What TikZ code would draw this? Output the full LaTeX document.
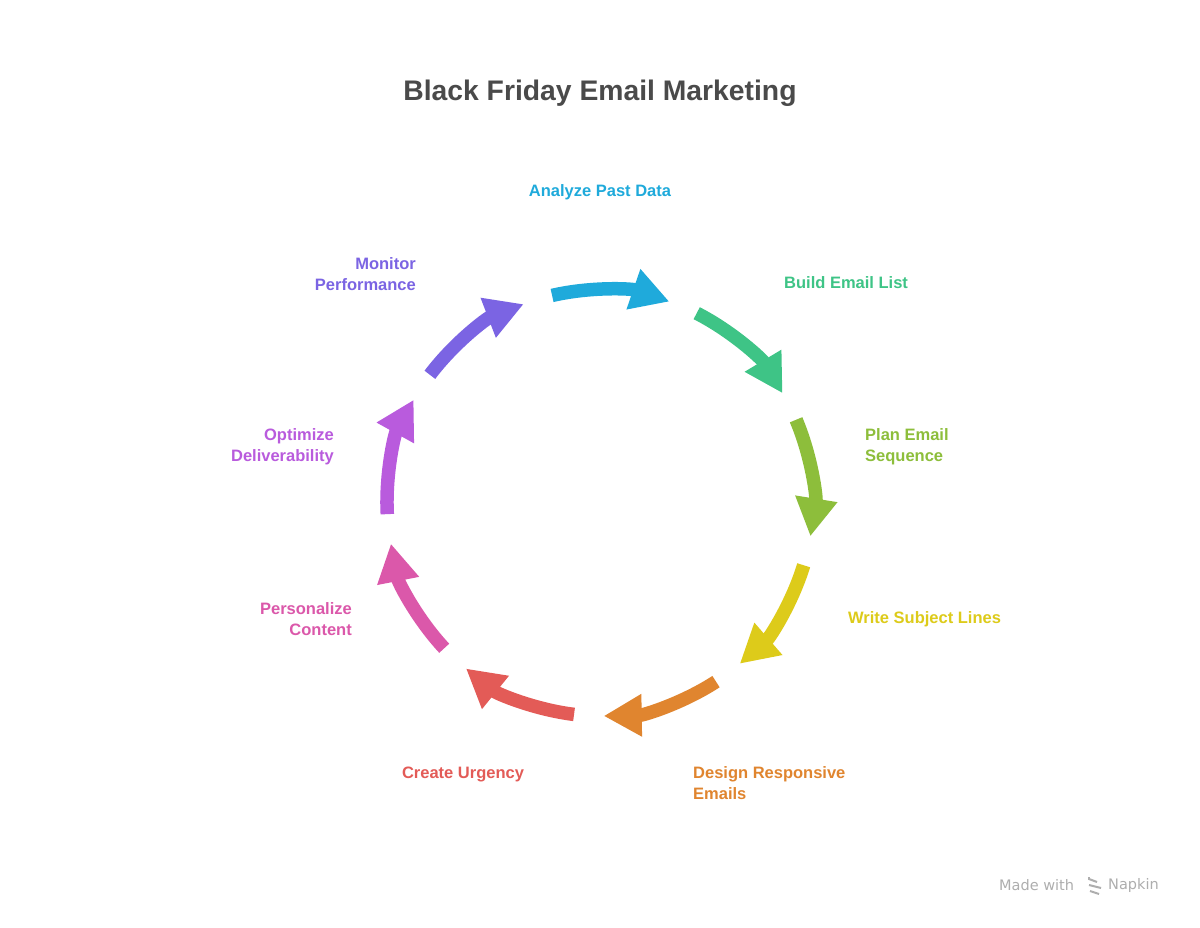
\documentclass[tikz,border=0pt]{standalone}
\usepackage{fontspec}
\setmainfont{Liberation Sans}
\newfontfamily\footfont{DejaVu Sans}
\usetikzlibrary{arrows.meta}
\definecolor{cblue}{HTML}{1FAADB}
\definecolor{cgreen}{HTML}{3EC486}
\definecolor{colive}{HTML}{8DBE3B}
\definecolor{cyellow}{HTML}{DDCB1A}
\definecolor{corange}{HTML}{E0852F}
\definecolor{cred}{HTML}{E35B57}
\definecolor{cpink}{HTML}{DB58AA}
\definecolor{cpurple}{HTML}{B95BDD}
\definecolor{cviolet}{HTML}{7B64E3}
\definecolor{ctitle}{HTML}{4A4A4A}
\definecolor{cfoot}{HTML}{AEAEAE}
\begin{document}
\begin{tikzpicture}[x=1pt,y=1pt,
  seg/.style={line width=13.5pt, -{Triangle[width=40pt,length=38pt]}},
  lbl/.style={font=\fontsize{16.5}{21}\selectfont\bfseries, inner sep=0pt},
  foot/.style={font=\fontsize{14.5}{18}\footfont, text=cfoot, anchor=west, inner sep=0pt}]
\useasboundingbox (0,0) rectangle (1200,927);
\fill[white] (0,0) rectangle (1200,927);
\node[font=\fontsize{28.3}{32}\selectfont\bfseries, text=ctitle] (title) at (600,834) {Black Friday Email Marketing};
\coordinate (c) at (600,424);
\foreach \col [count=\i from 0] in {cblue,cgreen,colive,cyellow,corange,cred,cpink,cpurple,cviolet} {
  \pgfmathsetmacro\sa{103-40*\i}
  \pgfmathsetmacro\ea{\sa-32}
  \draw[seg,\col] ([shift={(\sa:213)}]c) arc[start angle=\sa, end angle=\ea, radius=213];
}
\node[lbl, text=cblue] (l1) at (600,735) {Analyze Past Data};
\node[lbl, text=cgreen, anchor=west] (l2) at (784,644) {Build Email List};
\node[lbl, text=colive, anchor=west, align=left] (l3) at (865,480) {Plan Email\\Sequence};
\node[lbl, text=cyellow, anchor=west] (l4) at (848,308) {Write Subject Lines};
\node[lbl, text=corange, anchor=west, align=left] (l5) at (693,144) {Design Responsive\\Emails};
\node[lbl, text=cred] (l6) at (463,153) {Create Urgency};
\node[lbl, text=cpink, anchor=east, align=right] (l7) at (352,308) {Personalize\\Content};
\node[lbl, text=cpurple, anchor=east, align=right] (l8) at (334,480) {Optimize\\Deliverability};
\node[lbl, text=cviolet, anchor=east, align=right] (l9) at (416,653) {Monitor\\Performance};
\node[foot] (made) at (999,42) {Made with};
\node[foot] (napkin) at (1108,42) {Napkin};
\begin{scope}[cfoot, line width=2pt]
\draw (1089,48) -- (1097,45);
\draw (1089,42) -- (1101,39);
\draw (1090,36) -- (1099,33);
\draw (1089,50) -- (1089,47);
\end{scope}
\end{tikzpicture}
\end{document}
